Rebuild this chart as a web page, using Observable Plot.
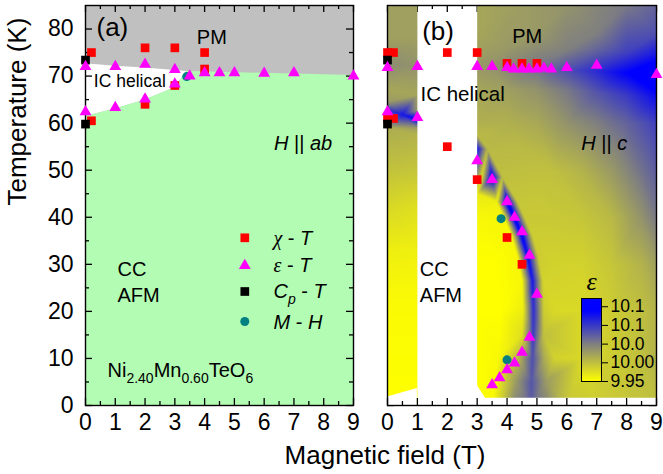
<!DOCTYPE html>
<html><head><meta charset="utf-8">
<script src="https://cdn.jsdelivr.net/npm/d3@7"></script>
<script src="https://cdn.jsdelivr.net/npm/@observablehq/plot@0.6"></script>
<style>
body{margin:0;background:#fff;}
#chart{position:relative;width:663px;height:474px;font-family:"Liberation Sans",Arial,sans-serif;overflow:hidden;}
#chart svg{position:absolute;overflow:visible;}
#xlabel{position:absolute;left:385px;top:455px;transform:translate(-50%,-50%);white-space:nowrap;font-size:26px;color:#000;}
</style></head><body><div id="chart"><div id="xlabel">Magnetic field (T)</div></div>
<script>
// ---------------- data ----------------
const xMajor = [0,1,2,3,4,5,6,7,8,9];
const xMinor = [0.5,1.5,2.5,3.5,4.5,5.5,6.5,7.5,8.5];
const yMajor = [0,10,20,30,40,50,60,70,80];
const yMinor = [5,15,25,35,45,55,65,75];

// panel (a) phase boundaries
const phaseField = [0, 1, 2, 3, 3.4, 9];
const pmLowerT   = [72.6, 72.1, 71.7, 71.2, 71.0, 70.1];
const ccUpperT   = [61.4, 63.0, 64.9, 67.5, 71.0, 70.1];

// panel (a) points
const chiAField = [0.2, 2, 3, 4, 4, 3, 2, 0.2];
const chiATemp  = [75, 76, 76, 75, 71.5, 68, 64, 60.5];
const epsAField = [0, 1, 2, 3, 3.5, 4, 4.5, 5, 6, 7, 9, 0, 1, 2, 3];
const epsATemp  = [72, 72, 72.5, 71.4, 70, 70.7, 70.7, 70.7, 70.6, 70.7, 70, 62.4, 63.3, 65.1, 68.3];
const cpAField  = [0, 0];
const cpATemp   = [73.4, 59.8];
const mhAField  = [3.4];
const mhATemp   = [69.9];

// panel (b) points
const chiBField = [0, 0.2, 2, 3, 4, 4.5, 5, 0, 0.2, 2, 3, 4, 4.5];
const chiBTemp  = [75, 75, 75, 75, 72.7, 72.7, 72.7, 61, 61, 55, 48, 35.7, 30];
const epsBField = [0, 1, 3, 3.5, 4, 4.22, 4.5, 4.73, 5, 5.23, 5.48, 6, 7, 9, 0, 1,
                   3, 3.5, 4, 4.25, 4.5, 4.75, 5, 4.75, 4.5, 4.25, 4, 3.75, 3.5];
const epsBTemp  = [71.8, 72, 72, 72, 71.8, 71.5, 71.5, 71.5, 71.5, 71.7, 71.5, 71.8, 72.3, 70.3, 62.4, 61.2,
                   52, 48, 43.3, 40, 36.9, 31.9, 23.6, 14.5, 11.3, 9, 7.6, 5.9, 4.4];
const cpBField  = [0, 0];
const cpBTemp   = [73.4, 59.8];
const mhBField  = [3.8, 4];
const mhBTemp   = [39.7, 9.7];

// panel (b) dielectric map samples, field 3-9 T
const rightField = [3,4,5,6,7,8,9, 3,5,7,9, 3,4,5,6,7,8,9,
  3,3.5,4,5,6,7,8,9, 3,4,5,6,7,8,9, 3,4,5,6,7,8,9, 4.5,5,3,
  5.5,6.5,7.5,8.5,9, 5.5,6.5,7.5,8.5,9, 5.6,6.5,7.5,8.5,9, 5.6,6.5,7.5,8.5,9, 5.6,6.5,7.5,8.5,9, 6,7,8,9,
  3.0,3.5,4.0,4.25,4.5,4.7,4.85,4.88,4.87,4.85,4.82,4.8,
  3.15,3.65,3.9,4.15,4.35,4.5,4.53,4.5,4.4,4.3,4.2,
  3.35,3.85,4.35,4.6,4.85,5.05,5.2,5.23,5.22,5.25,5.3,5.4,
  3,3,3,3,3,3,3.6,3.8,3.7,3.5];
const rightTemp = [85,85,85,85,85,85,85, 79,79,79,79, 76,76,76,75.5,75.5,75,74.5,
  72,72,71.8,71.5,71.3,71,70.7,70.3, 67,67,67,67,66.5,66,65.5, 60,60,60,60,60,60,60, 55,45,57.5,
  50,50,50,50,50, 40,40,40,40,40, 30,30,30,30,30, 20,20,20,20,20, 10,10,10,10,10, 0,0,0,0,
  54.5,48.5,43.3,39.8,36,31.5,26.5,21,15,10,5,0,
  48.5,43.3,39.8,36,31.5,26.5,21,15,10,5,0,
  54.5,48.5,43.3,39.8,36,31.5,26.5,21,15,10,5,0,
  45,40,30,20,10,0,30,20,10,0];
const rightEps = [10.02,10.025,10.03,10.035,10.045,10.055,10.07, 10.02,10.03,10.05,10.085,
  10.025,10.03,10.04,10.05,10.07,10.095,10.125,
  10.03,10.035,10.045,10.06,10.085,10.11,10.14,10.17,
  10.02,10.025,10.035,10.055,10.08,10.1,10.13,
  10.012,10.012,10.018,10.035,10.05,10.07,10.095, 10.005,9.995,10.005,
  10.0,10.01,10.03,10.06,10.075, 9.993,9.995,10.005,10.035,10.055, 9.985,9.985,9.995,10.01,10.025,
  9.98,9.98,9.99,10.0,10.01, 9.985,9.98,9.99,10.0,10.01, 9.995,9.99,9.995,10.0,
  10.13,10.15,10.155,10.15,10.145,10.135,10.125,10.11,10.1,10.085,10.08,10.075,
  9.978,9.962,9.957,9.956,9.956,9.957,9.962,9.975,10.01,10.03,10.04,
  10.005,10.0,9.995,9.993,9.99,9.99,9.985,9.988,10.0,10.015,10.03,10.04,
  9.967,9.956,9.95,9.95,9.95,9.95,9.95,9.95,9.955,9.955];

// field 0-1 T strip
const leftField = [0,1,0,1,0,1,0,1, 0,1, 0,0.5,1, 0,1, 0,1,0,1,0,1,0,1,0,1,0,1];
const leftTemp  = [85,85,78,78,72.5,72,67,66, 64.5,62.8, 62.8,61.8,60.8, 61,58.8, 59,57.5,50,50,42,42,33,33,22,22,0,0];
const leftEps   = [10.025,10.025,10.025,10.025,10.04,10.035,10.02,10.02, 10.03,10.03,
  10.1,10.125,10.14, 10.025,10.025, 10.015,10.01,9.998,9.995,9.98,9.975,9.963,9.962,9.954,9.954,9.95,9.95];

// white cut-outs at the bottom of the map
const cutLeftField = [0, 1];
const cutLeftTemp  = [1.8, 3.6];
const cutRightField = [3, 3.28, 9];
const cutRightTemp  = [4.3, 1.55, 1.55];

// colour bar
const cbTicks  = [9.95, 10.0, 10.05, 10.1, 10.15];
const cbLabels = ["9.95", "10.00", "10.0", "10.1", "10.1"];

// legend
const legendLabels  = ["χ - T", "ε - T", "Cp - T", "M - H"];

// ---------------- styles ----------------
const FONT = '"Liberation Sans", Arial, sans-serif';
const RED = "#ff0000", MAG = "#ff00ff", TEAL = "#008080", BLK = "#000000";
const GREEN = "#b3fcb3", GRAY = "#c0c0c0";
const EPS_SCALE = {type: "linear", domain: [9.95, 10.05, 10.14], range: ["#ffff00", "#808080", "#0000ff"], clamp: true};
const tk = {stroke: "black", strokeWidth: 1.3};

const pts = (F, T) => F.map((f, i) => ({f, t: T[i]}));
const phase = phaseField.map((f, i) => ({f, pm: pmLowerT[i], cc: ccUpperT[i]}));
const samples = (F, T, V) => F.map((f, i) => ({f, t: T[i], v: V[i]}));

const bottomTicks = () => [
  Plot.ruleX(xMajor, {x: d => d, y1: 0, y2: 0, insetTop: -7, ...tk}),
  Plot.ruleX(xMinor, {x: d => d, y1: 0, y2: 0, insetTop: -4, ...tk})];
const topTicks = () => [
  Plot.ruleX(xMajor, {x: d => d, y1: 85, y2: 85, insetBottom: -7, ...tk}),
  Plot.ruleX(xMinor, {x: d => d, y1: 85, y2: 85, insetBottom: -4, ...tk})];
const leftTicks = () => [
  Plot.ruleY(yMajor, {y: d => d, x1: 0, x2: 0, insetRight: -7, ...tk}),
  Plot.ruleY(yMinor, {y: d => d, x1: 0, x2: 0, insetRight: -4, ...tk})];
const rightTicks = () => [
  Plot.ruleY(yMajor, {y: d => d, x1: 9, x2: 9, insetLeft: -7, ...tk}),
  Plot.ruleY(yMinor, {y: d => d, x1: 9, x2: 9, insetLeft: -4, ...tk})];

const markerDots = (chiF, chiT, cpF, cpT, mhF, mhT, epsF, epsT) => [
  Plot.dot(pts(chiF, chiT), {x: "f", y: "t", symbol: "square", r: 4.9, fill: RED}),
  Plot.dot(pts(cpF, cpT), {x: "f", y: "t", symbol: "square", r: 4.9, fill: BLK}),
  Plot.dot(pts(mhF, mhT), {x: "f", y: "t", symbol: "circle", r: 4.5, fill: TEAL}),
  Plot.dot(pts(epsF, epsT), {x: "f", y: "t", symbol: "triangle", r: 4.4, fill: MAG})];

const txt = (s, o) => Plot.text([s], {text: d => d, lineAnchor: "middle", ...o});

// ---------------- panel (a) ----------------
const legendSym = ["square", "triangle", "square", "circle"];
const legendCol = [RED, MAG, BLK, TEAL];
const legendR   = [4.9, 4.4, 4.9, 4.5];
const legendDy  = [232.3, 260, 286, 316];
const legendTy  = [233, 260.5, 286.5, 316.7];

const panelA = Plot.plot({
  width: 365, height: 474, marginLeft: 85, marginRight: 12, marginTop: 5, marginBottom: 69,
  x: {domain: [0, 9]}, y: {domain: [0, 85]},
  style: {fontFamily: FONT, fontSize: "23px", color: "black", background: "transparent", overflow: "visible"},
  marks: [
    Plot.areaY(phase, {x: "f", y1: 0, y2: 85, fill: GRAY}),
    Plot.areaY(phase, {x: "f", y1: "cc", y2: "pm", fill: "white"}),
    Plot.areaY(phase, {x: "f", y1: 0, y2: "cc", fill: GREEN}),
    ...bottomTicks(), ...topTicks(), ...leftTicks(), ...rightTicks(),
    Plot.frame({stroke: "black", strokeWidth: 1.4}),
    Plot.axisX({ticks: xMajor, tickSize: 0, tickPadding: 8, tickFormat: d => String(d), label: null}),
    Plot.axisY({ticks: yMajor, tickSize: 0, tickPadding: 12, tickFormat: d => String(d), label: null}),
    Plot.text(["Temperature (K)"], {frameAnchor: "left", dx: -68, rotate: -90, fontSize: 26}),
    ...markerDots(chiAField, chiATemp, cpAField, cpATemp, mhAField, mhATemp, epsAField, epsATemp),
    ...legendLabels.map((l, i) => Plot.dot([l], {frameAnchor: "top-left", dx: 159.3, dy: legendDy[i], symbol: legendSym[i], r: legendR[i], fill: legendCol[i]})),
    ...legendLabels.map((l, i) => txt(l, {frameAnchor: "top-left", dx: 188, dy: legendTy[i], textAnchor: "start", fontSize: 20})),
    txt("(a)", {frameAnchor: "top-left", dx: 11, dy: 22, textAnchor: "start", fontSize: 26}),
    txt("PM", {frameAnchor: "top-left", dx: 126.3, dy: 32.5, textAnchor: "middle", fontSize: 20}),
    txt("IC helical", {frameAnchor: "top-left", dx: 8.3, dy: 76, textAnchor: "start", fontSize: 17.5}),
    txt("H || ab", {frameAnchor: "top-right", dx: -21.3, dy: 138, textAnchor: "end", fontSize: 20}),
    txt("CC", {frameAnchor: "top-left", dx: 32, dy: 264, textAnchor: "start", fontSize: 20}),
    txt("AFM", {frameAnchor: "top-left", dx: 32, dy: 290, textAnchor: "start", fontSize: 20}),
    txt("Ni2.40Mn0.60TeO6", {frameAnchor: "top-left", dx: 22, dy: 365.5, textAnchor: "start", fontSize: 20})
  ]
});

// ---------------- panel (b) ----------------
const panelB = Plot.plot({
  width: 298, height: 474, marginLeft: 22, marginRight: 7, marginTop: 5, marginBottom: 69,
  x: {domain: [0, 9]}, y: {domain: [0, 85], axis: null}, color: EPS_SCALE,
  style: {fontFamily: FONT, fontSize: "23px", color: "black", background: "transparent", overflow: "visible"},
  marks: [
    ...topTicks(), ...leftTicks(), ...rightTicks(),
    Plot.raster(samples(rightField, rightTemp, rightEps), {x: "f", y: "t", fill: "v", x1: 3, x2: 9, y1: 0, y2: 85, interpolate: "barycentric"}),
    Plot.raster(samples(leftField, leftTemp, leftEps), {x: "f", y: "t", fill: "v", x1: 0, x2: 1, y1: 0, y2: 85, interpolate: "barycentric"}),
    Plot.areaY(pts(cutLeftField, cutLeftTemp), {x: "f", y1: 0, y2: "t", fill: "white"}),
    Plot.areaY(pts(cutRightField, cutRightTemp), {x: "f", y1: 0, y2: "t", fill: "white"}),
    ...bottomTicks(),
    Plot.frame({stroke: "black", strokeWidth: 1.4}),
    Plot.axisX({ticks: xMajor, tickSize: 0, tickPadding: 8, tickFormat: d => String(d), label: null}),
    ...markerDots(chiBField, chiBTemp, cpBField, cpBTemp, mhBField, mhBTemp, epsBField, epsBTemp),
    txt("(b)", {frameAnchor: "top-left", dx: 34.7, dy: 26, textAnchor: "start", fontSize: 26}),
    txt("PM", {frameAnchor: "top-left", dx: 139.7, dy: 31, textAnchor: "middle", fontSize: 20}),
    txt("IC helical", {frameAnchor: "top-left", dx: 33, dy: 89, textAnchor: "start", fontSize: 20.5}),
    txt("H || c", {frameAnchor: "top-right", dx: -29.3, dy: 138, textAnchor: "end", fontSize: 20}),
    txt("CC", {frameAnchor: "top-left", dx: 32.3, dy: 264, textAnchor: "start", fontSize: 20}),
    txt("AFM", {frameAnchor: "top-left", dx: 32.3, dy: 290, textAnchor: "start", fontSize: 20})
  ]
});

// ---------------- colour bar ----------------
const colorBar = Plot.plot({
  width: 100, height: 125, marginLeft: 21, marginRight: 59, marginTop: 33, marginBottom: 9,
  x: {domain: [0, 1], axis: null}, y: {domain: [9.95, 10.172]}, color: EPS_SCALE,
  style: {fontFamily: FONT, fontSize: "17.5px", color: "black", background: "transparent", overflow: "visible"},
  marks: [
    Plot.raster({x1: 0, x2: 1, y1: 9.95, y2: 10.172, fill: (x, y) => y}),
    Plot.frame({stroke: "black", strokeWidth: 1}),
    Plot.axisY({anchor: "right", ticks: cbTicks, tickSize: 6, tickPadding: 3, tickFormat: d => cbLabels[cbTicks.indexOf(d)], label: null}),
    Plot.text(["ε"], {frameAnchor: "top", dy: -17, lineAnchor: "middle", fontFamily: '"Liberation Serif", serif', fontStyle: "italic", fontSize: 26})
  ]
});

// ---------------- rich text ----------------
function richText(svg, plain, parts) {
  d3.select(svg).selectAll("text").filter(function () { return this.textContent === plain; }).each(function () {
    const t = d3.select(this);
    t.text(null);
    let shift = 0;
    for (const p of parts) {
      const s = t.append("tspan").text(p.t);
      if (p.i) s.attr("font-style", "italic");
      if (p.serif) s.attr("font-family", '"Liberation Serif", serif');
      if (p.sub) s.attr("font-size", p.sub);
      const want = p.sub ? 6 : 0;
      if (want !== shift) { s.attr("dy", want - shift); shift = want; }
    }
  });
}
for (const svg of [panelA, panelB]) {
  richText(svg, "χ - T", [{t: "χ", i: 1, serif: 1}, {t: " - "}, {t: "T", i: 1}]);
  richText(svg, "ε - T", [{t: "ε", i: 1, serif: 1}, {t: " - "}, {t: "T", i: 1}]);
  richText(svg, "Cp - T", [{t: "C", i: 1}, {t: "p", i: 1, sub: 14}, {t: " - "}, {t: "T", i: 1}]);
  richText(svg, "M - H", [{t: "M", i: 1}, {t: " - "}, {t: "H", i: 1}]);
  richText(svg, "H || ab", [{t: "H", i: 1}, {t: " || "}, {t: "ab", i: 1}]);
  richText(svg, "H || c", [{t: "H", i: 1}, {t: " || "}, {t: "c", i: 1}]);
  richText(svg, "Ni2.40Mn0.60TeO6", [{t: "Ni"}, {t: "2.40", sub: 14}, {t: "Mn"}, {t: "0.60", sub: 14}, {t: "TeO"}, {t: "6", sub: 14}]);
}

// ---------------- layout ----------------
const chart = document.getElementById("chart");
const place = (el, left, top) => { el.style.position = "absolute"; el.style.left = left + "px"; el.style.top = top + "px"; chart.appendChild(el); };
place(panelA, 0, 0);
place(panelB, 365, 0);
place(colorBar, 560, 265);
</script>
</body></html>
